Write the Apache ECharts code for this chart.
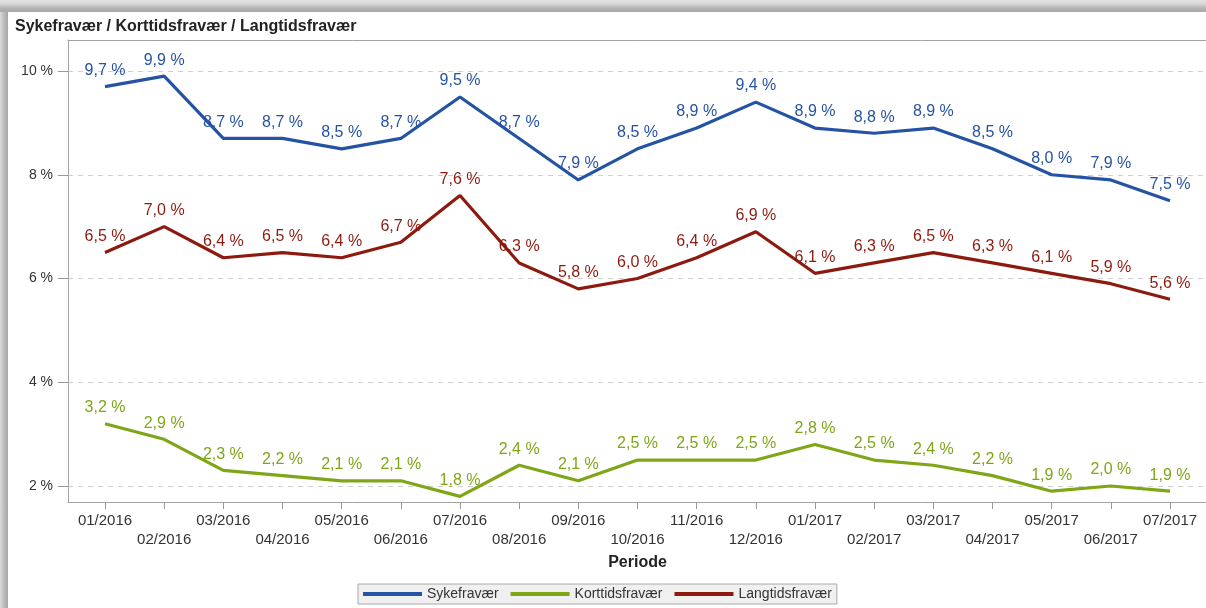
<!DOCTYPE html>
<html>
<head>
<meta charset="utf-8">
<script src="https://cdn.jsdelivr.net/npm/echarts@6/dist/echarts.min.js"></script>
<style>
  html, body { margin: 0; padding: 0; }
  body {
    width: 1206px; height: 608px; overflow: hidden;
    background:
      linear-gradient(to bottom, #e2e2e2 0, #d6d6d6 4px, #b6b6b6 8px, #ababab 11px) top left / 100% 12px no-repeat,
      linear-gradient(to right, #dadada 0, #c4c4c4 3px, #a9a9a9 7px) top left / 8px 100% no-repeat,
      #ffffff;
  }
  #chart { position: absolute; left: 0; top: 0; width: 1206px; height: 608px; }
</style>
</head>
<body>
<div id="chart"></div>
<script>
// Periods (month/year)
const periods = [
  '01/2016', '02/2016', '03/2016', '04/2016', '05/2016', '06/2016', '07/2016',
  '08/2016', '09/2016', '10/2016', '11/2016', '12/2016', '01/2017', '02/2017',
  '03/2017', '04/2017', '05/2017', '06/2017', '07/2017'
];

// Absence rates in percent
const sykefravaer = [9.7, 9.9, 8.7, 8.7, 8.5, 8.7, 9.5, 8.7, 7.9, 8.5, 8.9, 9.4, 8.9, 8.8, 8.9, 8.5, 8.0, 7.9, 7.5];
const korttidsfravaer = [3.2, 2.9, 2.3, 2.2, 2.1, 2.1, 1.8, 2.4, 2.1, 2.5, 2.5, 2.5, 2.8, 2.5, 2.4, 2.2, 1.9, 2.0, 1.9];
const langtidsfravaer = [6.5, 7.0, 6.4, 6.5, 6.4, 6.7, 7.6, 6.3, 5.8, 6.0, 6.4, 6.9, 6.1, 6.3, 6.5, 6.3, 6.1, 5.9, 5.6];

// Y axis tick values
const yTicks = { min: 2, max: 10, step: 2 };

const FONT = "'Liberation Sans', Arial, Helvetica, sans-serif";
const colors = { syke: '#2553a4', kort: '#7fa617', lang: '#8c1a0f' };
const frameLine = { show: true, lineStyle: { color: '#a3a3a3', width: 1 } };

const pct = v => v.toFixed(1).replace('.', ',') + ' %';

function lineSeries(name, data, color) {
  return {
    name: name,
    type: 'line',
    xAxisIndex: 1,
    yAxisIndex: 1,
    data: data,
    clip: false,
    symbol: 'circle',
    symbolSize: 0.1,
    itemStyle: { color: color },
    lineStyle: { color: color, width: 3.2 },
    label: {
      show: true,
      position: 'top',
      distance: 8,
      color: color,
      fontFamily: FONT,
      fontSize: 16,
      formatter: p => pct(p.value)
    },
    emphasis: { disabled: true },
    animation: false
  };
}

// Frame axis: only the line, no ticks or labels
function frameAxis(gridIndex, position) {
  return {
    gridIndex: gridIndex,
    type: 'value',
    position: position,
    axisLine: frameLine,
    axisTick: { show: false },
    axisLabel: { show: false },
    splitLine: { show: false }
  };
}

const chart = echarts.init(document.getElementById('chart'), null, { renderer: 'canvas' });

chart.setOption({
  animation: false,
  textStyle: { fontFamily: FONT },
  title: {
    text: 'Sykefravær / Korttidsfravær / Langtidsfravær',
    left: 15,
    top: 19,
    padding: 0,
    textStyle: { fontFamily: FONT, fontSize: 16, fontWeight: 'bold', color: '#222' }
  },
  legend: {
    data: ['Sykefravær', 'Korttidsfravær', 'Langtidsfravær'],
    left: 358,
    top: 584,
    padding: [3, 5, 3, 5],
    icon: 'rect',
    itemWidth: 59,
    itemHeight: 4,
    itemGap: 12,
    backgroundColor: '#f0f0f0',
    borderColor: '#a8a8a8',
    borderWidth: 1,
    borderRadius: 0,
    textStyle: { fontFamily: FONT, fontSize: 14, color: '#333' },
    selectedMode: false
  },
  grid: [
    // y axis, ticks and gridlines
    { left: 68, top: 71, right: 0, height: 415 },
    // data area
    { left: 105, top: 71, width: 1065, height: 415 },
    // plot frame (open to the right)
    { left: 68, top: 40, right: 0, height: 462 }
  ],
  xAxis: [
    { gridIndex: 0, type: 'value', show: false },
    {
      gridIndex: 1,
      type: 'category',
      data: periods,
      boundaryGap: false,
      offset: 16,
      axisLine: { show: false },
      axisTick: { show: true, length: 7, lineStyle: { color: '#999' } },
      axisLabel: {
        interval: 0,
        hideOverlap: false,
        fontFamily: FONT,
        fontSize: 15,
        color: '#333',
        lineHeight: 19,
        margin: 9.5,
        formatter: (v, i) => (i % 2 === 1 ? '\n' + v : v)
      },
      splitLine: { show: false },
      name: 'Periode',
      nameLocation: 'middle',
      nameGap: 53,
      nameTextStyle: { fontFamily: FONT, fontSize: 16, fontWeight: 'bold', color: '#222' }
    },
    frameAxis(2, 'bottom'),
    frameAxis(2, 'top')
  ],
  yAxis: [
    {
      gridIndex: 0,
      type: 'value',
      min: yTicks.min,
      max: yTicks.max,
      interval: yTicks.step,
      axisLine: { show: false },
      axisTick: { show: true, length: 10, lineStyle: { color: '#999' } },
      axisLabel: {
        fontFamily: FONT,
        fontSize: 14,
        color: '#333',
        margin: 15,
        formatter: v => v + ' %'
      },
      splitLine: { show: true, lineStyle: { color: '#cfcfcf', type: [5, 5], width: 1 } }
    },
    { gridIndex: 1, type: 'value', min: yTicks.min, max: yTicks.max, show: false, splitLine: { show: false } },
    frameAxis(2, 'left')
  ],
  series: [
    lineSeries('Sykefravær', sykefravaer, colors.syke),
    lineSeries('Korttidsfravær', korttidsfravaer, colors.kort),
    lineSeries('Langtidsfravær', langtidsfravaer, colors.lang)
  ]
});
</script>
</body>
</html>
